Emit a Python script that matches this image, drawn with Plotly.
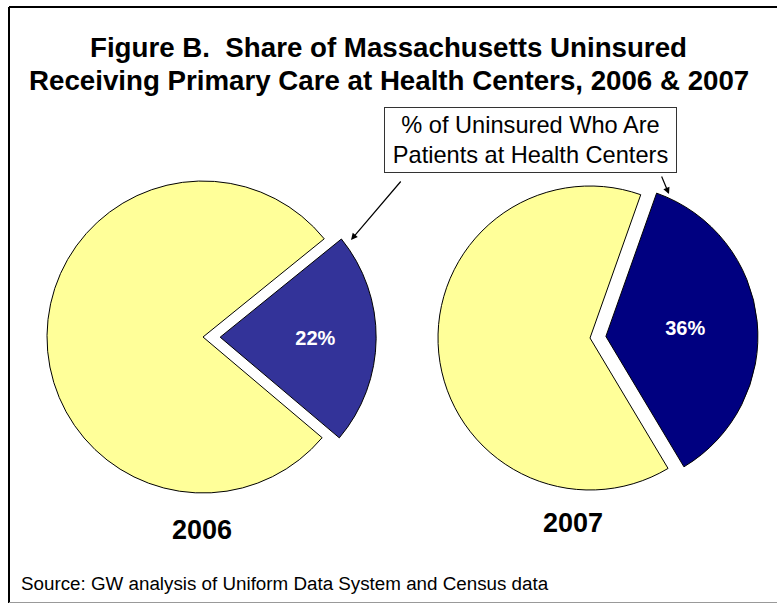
import plotly.graph_objects as go

# ---- data ----
years = ["2006", "2007"]
slice_labels = ["Patients at Health Centers", "Other Uninsured"]
hc_share = [22, 36]          # % of uninsured who are patients at health centers
other_share = [78, 64]
slice_colors = [["#333399", "#FFFF99"], ["#000080", "#FFFF99"]]
rotations = [51, 19.5]
pulls = [0.11, 0.105]

title_lines = ["Figure B.\u00a0 Share of Massachusetts Uninsured",
               "Receiving Primary Care at Health Centers, 2006 & 2007"]
callout_text = "% of Uninsured Who Are<br>Patients at Health Centers"
source_text = "Source: GW analysis of Uniform Data System and Census data"

W, H = 777, 604
FONT = "Arial, Liberation Sans, sans-serif"

def px(x):
    return x / W

def py(y):
    return 1 - y / H

# pie geometry (pixel centers / radius)
centers = [(203, 337), (590, 338)]
radii = [156, 152]

fig = go.Figure()
for i, yr in enumerate(years):
    cx, cy = centers[i]
    half = radii[i] * (1 + pulls[i])
    fig.add_trace(go.Pie(
        labels=slice_labels,
        values=[hc_share[i], other_share[i]],
        text=[f"{hc_share[i]}%", ""],
        textinfo="text",
        textposition="inside",
        insidetextorientation="horizontal",
        textfont=dict(family=FONT, size=20, color="white", weight="bold"),
        marker=dict(colors=slice_colors[i], line=dict(color="black", width=1)),
        sort=False,
        direction="clockwise",
        rotation=rotations[i],
        pull=[pulls[i], 0],
        hoverinfo="label+value",
        showlegend=False,
        domain=dict(x=[px(cx - half), px(cx + half)],
                    y=[py(cy + half), py(cy - half)]),
    ))

annotations = []
# title
for txt, yc in zip(title_lines, [47, 80]):
    annotations.append(dict(text=f"<b>{txt}</b>", x=px(389), y=py(yc), xref="paper", yref="paper",
                             showarrow=False, xanchor="center", yanchor="middle",
                             font=dict(family=FONT, size=27.7, color="black")))
# year labels
for yr, (xc, yc) in zip(years, [(202, 530), (573, 523)]):
    annotations.append(dict(text=f"<b>{yr}</b>", x=px(xc), y=py(yc), xref="paper", yref="paper",
                             showarrow=False, xanchor="center", yanchor="middle",
                             font=dict(family=FONT, size=27, color="black")))
# callout box
annotations.append(dict(text=callout_text, x=px(530.5), y=py(140), xref="paper", yref="paper",
                         showarrow=False, xanchor="center", yanchor="middle",
                         width=291, height=64, borderpad=0, borderwidth=1,
                         bordercolor="#333333", bgcolor="white", align="center",
                         font=dict(family=FONT, size=23.6, color="black")))
# arrows
for (tx, ty), (sx, sy) in [((351, 240), (402, 180)), ((669, 194), (661, 175))]:
    annotations.append(dict(text="", x=px(tx), y=py(ty), xref="paper", yref="paper",
                             ax=sx - tx, ay=sy - ty, showarrow=True, arrowhead=2,
                             arrowsize=1.1, arrowwidth=1.2, arrowcolor="black",
                             standoff=0, startstandoff=0))
# source
annotations.append(dict(text=source_text, x=px(19), y=py(583), xref="paper", yref="paper",
                         showarrow=False, xanchor="left", yanchor="middle",
                         font=dict(family=FONT, size=18.8, color="black")))

shapes = [
    dict(type="line", xref="paper", yref="paper", x0=px(9), x1=1.01, y0=py(7), y1=py(7),
         line=dict(color="black", width=2)),
    dict(type="line", xref="paper", yref="paper", x0=px(9), x1=px(9), y0=py(7), y1=py(603),
         line=dict(color="black", width=2)),
    dict(type="line", xref="paper", yref="paper", x0=px(9), x1=1.01, y0=py(602.5), y1=py(602.5),
         line=dict(color="#999999", width=1)),
]

fig.update_layout(
    width=W, height=H,
    margin=dict(l=0, r=0, t=0, b=0),
    paper_bgcolor="white", plot_bgcolor="white",
    annotations=annotations, shapes=shapes,
    font=dict(family=FONT),
)

fig.write_html("out.html",
               config={"displayModeBar": False},
               post_script="document.body.style.margin='0px';document.body.style.overflow='hidden';")
